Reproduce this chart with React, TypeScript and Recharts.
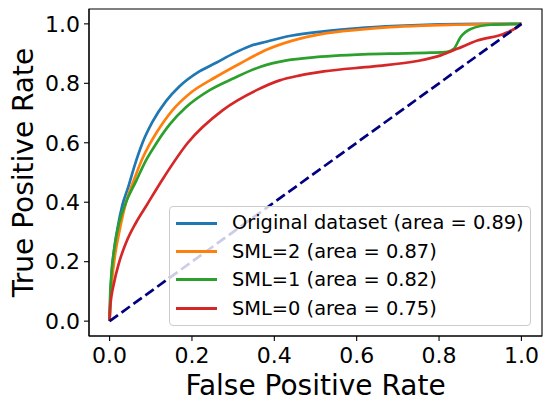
import React from "react";
import {
  LineChart,
  Line,
  XAxis,
  YAxis,
  ReferenceArea,
} from "recharts";

const FONT = "'DejaVu Sans', sans-serif";

const TICKS = [0, 0.2, 0.4, 0.6, 0.8, 1.0];

// ROC curves (false positive rate / true positive rate)
const originalFpr = [0, 0.002, 0.005, 0.011, 0.019, 0.031, 0.045, 0.06, 0.08, 0.104, 0.137, 0.17, 0.218, 0.26, 0.3, 0.34, 0.38, 0.44, 0.52, 0.6, 0.7, 0.8, 0.9, 1.0];
const originalTpr = [0, 0.08, 0.16, 0.24, 0.31, 0.39, 0.45, 0.52, 0.6, 0.67, 0.74, 0.79, 0.84, 0.87, 0.9, 0.925, 0.94, 0.96, 0.975, 0.985, 0.993, 0.998, 1.0, 1.0];

const sml2Fpr = [0, 0.002, 0.006, 0.013, 0.025, 0.04, 0.06, 0.08, 0.096, 0.113, 0.153, 0.194, 0.259, 0.316, 0.381, 0.44, 0.52, 0.6, 0.68, 0.76, 0.84, 0.92, 1.0];
const sml2Tpr = [0, 0.07, 0.14, 0.22, 0.31, 0.4, 0.478, 0.548, 0.592, 0.632, 0.71, 0.765, 0.822, 0.866, 0.913, 0.942, 0.967, 0.98, 0.989, 0.994, 0.997, 0.999, 1.0];

const sml1Fpr = [0, 0.001, 0.004, 0.011, 0.023, 0.04, 0.064, 0.088, 0.113, 0.145, 0.186, 0.243, 0.3, 0.365, 0.43, 0.5, 0.56, 0.68, 0.78, 0.82, 0.836, 0.852, 0.877, 0.926, 1.0];
const sml1Tpr = [0, 0.07, 0.15, 0.24, 0.33, 0.4, 0.47, 0.54, 0.597, 0.66, 0.72, 0.777, 0.816, 0.855, 0.877, 0.888, 0.894, 0.9, 0.903, 0.906, 0.916, 0.955, 0.983, 0.997, 1.0];

const sml0Fpr = [0, 0.001, 0.011, 0.023, 0.04, 0.064, 0.09, 0.13, 0.19, 0.275, 0.357, 0.413, 0.46, 0.52, 0.641, 0.747, 0.804, 0.844, 0.893, 0.958, 0.99, 1.0];
const sml0Tpr = [0, 0.04, 0.13, 0.197, 0.264, 0.331, 0.39, 0.48, 0.6, 0.71, 0.777, 0.81, 0.826, 0.84, 0.857, 0.875, 0.894, 0.916, 0.944, 0.967, 0.989, 1.0];

const chanceFpr = [0, 1];
const chanceTpr = [0, 1];

function toPoints(fpr: number[], tpr: number[]) {
  return fpr.map((x, i) => ({ fpr: x, tpr: tpr[i] }));
}

const SERIES = [
  { name: "Original dataset (area = 0.89)", color: "#1f77b4", data: toPoints(originalFpr, originalTpr) },
  { name: "SML=2 (area = 0.87)", color: "#ff7f0e", data: toPoints(sml2Fpr, sml2Tpr) },
  { name: "SML=1 (area = 0.82)", color: "#2ca02c", data: toPoints(sml1Fpr, sml1Tpr) },
  { name: "SML=0 (area = 0.75)", color: "#d62728", data: toPoints(sml0Fpr, sml0Tpr) },
];

function LegendBox() {
  return (
    <div
      style={{
        position: "absolute",
        left: 169,
        top: 206,
        boxSizing: "border-box",
        width: 362,
        height: 120,
        padding: "2px 0",
        border: "1px solid #cccccc",
        borderRadius: 4,
        background: "rgba(255,255,255,0.8)",
        fontFamily: FONT,
        fontSize: 19.4,
        color: "#000",
      }}
    >
      {SERIES.map((s) => (
        <div key={s.name} style={{ display: "flex", alignItems: "center", height: 28.4 }}>
          <span style={{ display: "inline-block", marginLeft: 6, width: 41, height: 3, background: s.color }} />
          <span style={{ marginLeft: 15, whiteSpace: "nowrap", lineHeight: 1 }}>{s.name}</span>
        </div>
      ))}
    </div>
  );
}

function YTitle(props: any) {
  const vb = props.viewBox || { x: 0, y: 0, width: 0, height: 0 };
  const cy = vb.y + vb.height / 2;
  const x = 33;
  return (
    <text
      x={x}
      y={cy}
      transform={`rotate(-90, ${x}, ${cy})`}
      textAnchor="middle"
      fontFamily={FONT}
      fontSize={28}
      fill="#000"
    >
      True Positive Rate
    </text>
  );
}

export default function App() {
  const tickStyle = { fill: "#000", fontSize: 22, fontFamily: FONT };
  return (
    <div style={{ position: "absolute", left: 0, top: 0, width: 550, height: 404, background: "#fff" }}>
      <LineChart width={550} height={404} margin={{ top: 9, right: 8, bottom: 0, left: 0 }}>
        <XAxis
          type="number"
          dataKey="fpr"
          domain={[-0.05, 1.05]}
          ticks={TICKS}
          tickFormatter={(v: number) => v.toFixed(1)}
          height={68}
          tick={tickStyle}
          tickSize={5}
          tickMargin={6}
          tickLine={{ stroke: "#000", strokeWidth: 1.1 }}
          axisLine={{ stroke: "#000", strokeWidth: 1.1 }}
          allowDataOverflow
          label={{
            value: "False Positive Rate",
            position: "insideBottom",
            offset: 9,
            fontSize: 28,
            fontFamily: FONT,
            fill: "#000",
          }}
        />
        <YAxis
          type="number"
          dataKey="tpr"
          domain={[-0.05, 1.05]}
          ticks={TICKS}
          tickFormatter={(v: number) => v.toFixed(1)}
          width={89}
          tick={tickStyle}
          tickSize={5}
          tickMargin={4}
          tickLine={{ stroke: "#000", strokeWidth: 1.1 }}
          axisLine={{ stroke: "#000", strokeWidth: 1.1 }}
          allowDataOverflow
          label={{ content: (p: any) => <YTitle {...p} /> }}
        />
        <ReferenceArea
          x1={-0.05}
          x2={1.05}
          y1={-0.05}
          y2={1.05}
          fill="none"
          stroke="#000"
          strokeWidth={1.1}
          ifOverflow="visible"
        />
        {SERIES.map((s) => (
          <Line
            key={s.name}
            name={s.name}
            data={s.data}
            dataKey="tpr"
            type="monotone"
            stroke={s.color}
            strokeWidth={2.7}
            dot={false}
            activeDot={false}
            isAnimationActive={false}
          />
        ))}
        <Line
          name="chance"
          data={toPoints(chanceFpr, chanceTpr)}
          dataKey="tpr"
          type="linear"
          stroke="#000080"
          strokeWidth={2.7}
          strokeDasharray="10.3 4.4"
          dot={false}
          activeDot={false}
          legendType="none"
          isAnimationActive={false}
        />
      </LineChart>
      <LegendBox />
    </div>
  );
}
